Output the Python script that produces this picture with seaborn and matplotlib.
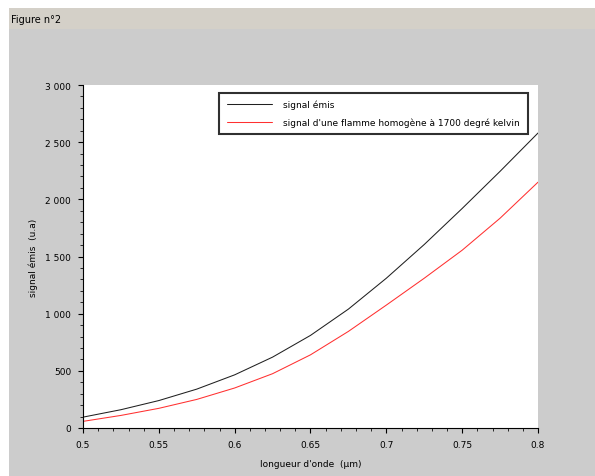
import numpy as np
import pandas as pd
import matplotlib
matplotlib.use("Agg")
import matplotlib.pyplot as plt
import seaborn as sns
from matplotlib.ticker import AutoMinorLocator
from matplotlib.patches import Rectangle

# values
wavelength = [0.5, 0.525, 0.55, 0.575, 0.6, 0.625, 0.65, 0.675, 0.7, 0.725, 0.75, 0.775, 0.8]
signal_emis = [95, 160, 240, 340, 465, 620, 810, 1040, 1310, 1605, 1920, 2245, 2580]
signal_flamme = [58, 110, 172, 250, 350, 475, 640, 845, 1075, 1310, 1555, 1835, 2150]

series_names = ["signal émis", "signal d'une flamme homogène à 1700 degré kelvin"]
series_colors = ["#202020", "#ff3030"]

x_ticks = [0.5, 0.55, 0.6, 0.65, 0.7, 0.75, 0.8]
x_labels = ["0.5", "0.55", "0.6", "0.65", "0.7", "0.75", "0.8"]
y_ticks = [0, 500, 1000, 1500, 2000, 2500, 3000]
y_labels = ["0", "500", "1 000", "1 500", "2 000", "2 500", "3 000"]

df = pd.DataFrame({
    "x": wavelength * 2,
    "y": signal_emis + signal_flamme,
    "serie": [series_names[0]] * len(wavelength) + [series_names[1]] * len(wavelength),
})

sns.set_style("ticks")
plt.rcParams["font.family"] = ["DejaVu Sans"]
plt.rcParams["text.color"] = "black"
plt.rcParams["axes.labelcolor"] = "black"

W, H = 595, 477
fig = plt.figure(figsize=(W / 100, H / 100), dpi=100)
fig.patch.set_facecolor("white")

# window-like frame: gray body and title bar
fig.patches.append(Rectangle((9 / W, 0), 1, 1 - 30 / H, transform=fig.transFigure,
                             facecolor="#cccccc", edgecolor="none", zorder=-10))
fig.patches.append(Rectangle((9 / W, 1 - 30 / H), 1, 21 / H, transform=fig.transFigure,
                             facecolor="#d4d0c8", edgecolor="none", zorder=-10))
fig.text(11 / W, 1 - 20 / H, "Figure n°2", fontsize=7, va="center", ha="left", color="black")

ax = fig.add_axes([83 / W, 1 - 429 / H, (538 - 83) / W, (429 - 86) / H])
ax.set_facecolor("white")

sns.lineplot(data=df, x="x", y="y", hue="serie", palette=series_colors,
             linewidth=0.75, ax=ax, legend=True)

ax.set_xlim(0.5, 0.8)
ax.set_ylim(0, 3000)
ax.set_xticks(x_ticks)
ax.set_xticklabels(x_labels)
ax.set_yticks(y_ticks)
ax.set_yticklabels(y_labels)
ax.xaxis.set_minor_locator(AutoMinorLocator(5))
ax.yaxis.set_minor_locator(AutoMinorLocator(5))
ax.tick_params(which="major", direction="out", length=3.5, width=0.8, labelsize=6.5,
               colors="black", pad=5)
ax.tick_params(which="minor", direction="out", length=2, width=0.7)

for side in ["top", "right"]:
    ax.spines[side].set_visible(False)
for side in ["left", "bottom"]:
    ax.spines[side].set_color("black")
    ax.spines[side].set_linewidth(0.8)

ax.set_xlabel("longueur d'onde  (µm)", fontsize=6.5, labelpad=7)
ax.set_ylabel("signal émis  (u.a)", fontsize=6.5, labelpad=5)

handles, labels = ax.get_legend_handles_labels()
leg = ax.legend(handles, labels, loc="upper left",
                bbox_to_anchor=(0.29, 0.991, 0.697, 0.0), mode="expand",
                fontsize=6.5, frameon=True, fancybox=False, framealpha=1,
                edgecolor="#303030", handlelength=5, handletextpad=1.2,
                borderpad=0.8, labelspacing=0.9)
leg.get_frame().set_linewidth(1.5)
for t in leg.get_texts():
    t.set_color("black")

fig.savefig("out.png", dpi=100, facecolor=fig.get_facecolor())
